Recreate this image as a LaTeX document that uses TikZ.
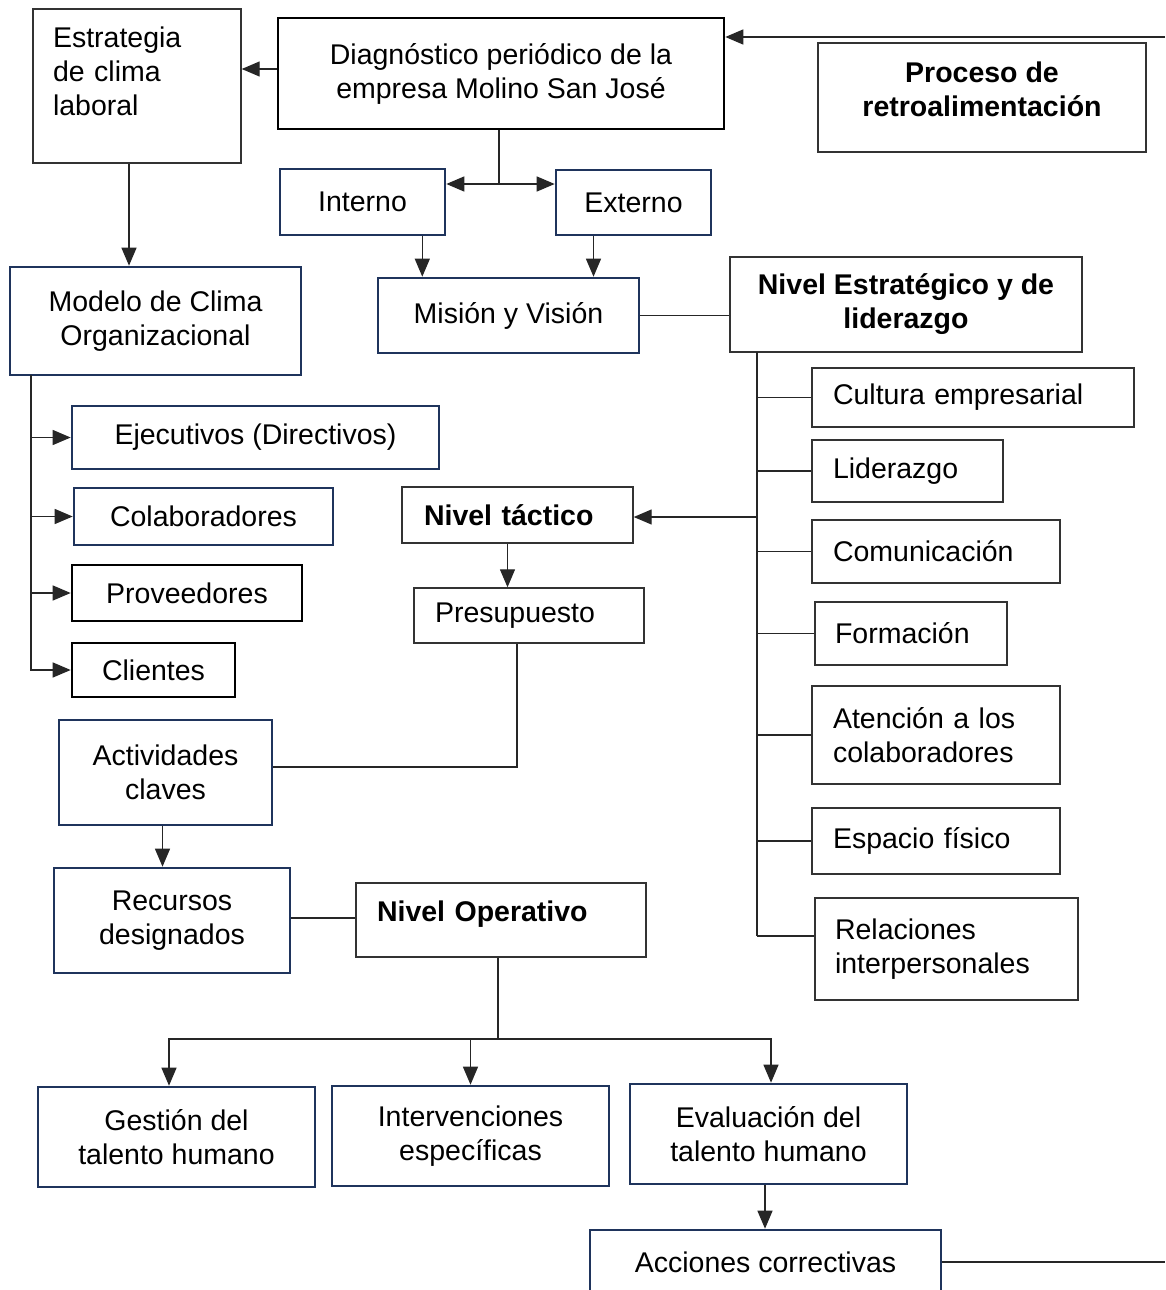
\documentclass[tikz,border=0pt]{standalone}
\usepackage[usenames,dvipsnames,svgnames,table]{xcolor}
\usepackage{fontspec}
\setmainfont{Liberation Sans}
\usepackage{tikz}
\usetikzlibrary{arrows.meta}

\definecolor{navyline}{RGB}{31,52,92}

\tikzset{
  txtfont/.style={font=\fontsize{28.5}{34}\selectfont},
  thinbox/.style={draw=black!80, line width=1.4pt, rectangle, inner sep=0pt, txtfont},
  thickbox/.style={draw=black, line width=2.6pt, rectangle, inner sep=0pt, txtfont},
  navybox/.style={draw=navyline, line width=2.6pt, rectangle, inner sep=0pt, txtfont},
  arr/.style={-{Triangle[length=18pt,width=15pt]}},
  conn/.style={draw=black!85, line width=1.3pt}
}

\begin{document}
\begin{tikzpicture}[x=1pt,y=-1pt]
        \useasboundingbox (0,0) rectangle (1165,1290);

        % cabecera
        \node[thinbox, minimum width=208, minimum height=154, text width=168, align=left] (estr) at (137,86) {Estrategia\\de clima\\laboral\\[-4pt]~};
        \node[thickbox, minimum width=446, minimum height=111, align=center] (diag) at (501,73.5) {Diagnóstico periódico de la\\empresa Molino San José};
        \node[thinbox, minimum width=328, minimum height=109, align=center, font=\fontsize{28.5}{34}\selectfont\bfseries] (proc) at (982,97.5) {Proceso de\\retroalimentación\\[-17pt]~};
        \node[navybox, minimum width=165, minimum height=66] (intern) at (362.5,202) {Interno};
        \node[navybox, minimum width=155, minimum height=65] (extern) at (633.5,202.5) {Externo};
        \node[navybox, minimum width=261, minimum height=75] (mision) at (508.5,315.5) {Misión y Visión};

        % nivel estrategico
        \node[thinbox, minimum width=352, minimum height=95, align=center, font=\fontsize{28.5}{34}\selectfont\bfseries] (nest) at (906,304.5) {Nivel Estratégico y de\\liderazgo};
        \node[thinbox, minimum width=322, minimum height=59, text width=280, align=left] (cult) at (973,397.5) {Cultura empresarial};
        \node[thinbox, minimum width=191, minimum height=62, text width=149, align=left] (lider) at (907.5,471) {Liderazgo};
        \node[thinbox, minimum width=248, minimum height=63, text width=206, align=left] (comun) at (936,551.5) {Comunicación};
        \node[thinbox, minimum width=192, minimum height=63, text width=152, align=left] (form) at (911,633.5) {Formación};
        \node[thinbox, minimum width=248, minimum height=98, text width=206, align=left] (atenc) at (936,735) {Atención a los\\colaboradores};
        \node[thinbox, minimum width=248, minimum height=66, text width=206, align=left] (espac) at (936,841) {Espacio físico};
        \node[thinbox, minimum width=263, minimum height=102, text width=223, align=left] (relac) at (946.5,949) {Relaciones\\interpersonales};

        % modelo
        \node[navybox, minimum width=291, minimum height=108, align=center] (model) at (155.5,321) {Modelo de Clima\\Organizacional};
        \node[navybox, minimum width=367, minimum height=63] (ejec) at (255.5,437.5) {Ejecutivos (Directivos)};
        \node[navybox, minimum width=259, minimum height=57] (colab) at (203.5,516.5) {Colaboradores};
        \node[thickbox, minimum width=230, minimum height=56] (prov) at (187,593) {Proveedores};
        \node[thickbox, minimum width=163, minimum height=54] (client) at (153.5,670) {Clientes};

        % nivel tactico
        \node[thinbox, minimum width=231, minimum height=56, text width=187, align=left, font=\fontsize{28.5}{34}\selectfont\bfseries] (tact) at (517.5,515) {Nivel táctico};
        \node[thinbox, minimum width=230, minimum height=55, text width=188, align=left] (presu) at (529,615.5) {Presupuesto};
        \node[navybox, minimum width=213, minimum height=105, align=center] (activ) at (165.5,772.5) {Actividades\\claves};
        \node[navybox, minimum width=236, minimum height=105, align=center] (recur) at (172,920.5) {Recursos\\designados};

        % nivel operativo
        \node[thinbox, minimum width=290, minimum height=74, text width=248, align=left, font=\fontsize{28.5}{34}\selectfont\bfseries] (nop) at (501,920) {Nivel Operativo\\[-16pt]~};
        \node[navybox, minimum width=277, minimum height=100, align=center] (gest) at (176.5,1137) {Gestión del\\talento humano};
        \node[navybox, minimum width=277, minimum height=100, align=center] (interv) at (470.5,1136) {Intervenciones\\específicas};
        \node[navybox, minimum width=277, minimum height=100, align=center] (eval) at (768.5,1134) {Evaluación del\\talento humano};
        \node[navybox, minimum width=351, minimum height=64] (accion) at (765.5,1262) {Acciones correctivas};

        % puntos de union
        \coordinate (dsplit) at (499,184);
        \coordinate (etop) at (757,352);
        \coordinate (ebot) at (757,936);
        \coordinate (mtop) at (31,375);
        \coordinate (pcorner) at (517,767);
        \coordinate (osplit) at (498,1039);
        \coordinate (fbin) at (1165,37);
        \coordinate (fbout) at (1165,1262);

        % conectores
        \draw[conn,arr] (diag.west |- 0,69) -- (estr.east |- 0,69);
        \draw[conn,arr] ([xshift=-8pt]estr.south) -- ([xshift=-8pt]estr.south |- model.north);
        \draw[conn] (diag.south -| dsplit) -- (dsplit);
        \draw[conn,arr] (dsplit) -- (dsplit -| intern.east);
        \draw[conn,arr] (dsplit) -- (dsplit -| extern.west);
        \draw[conn,arr] ([xshift=-24pt]intern.south east) -- ([xshift=-24pt]intern.south east |- mision.north);
        \draw[conn,arr] ([xshift=-40pt]extern.south) -- ([xshift=-40pt]extern.south |- mision.north);
        \draw[conn] (mision.east) -- (mision.east -| nest.west);

        \draw[conn] (etop) -- (ebot);
        \foreach \b in {cult,lider,comun,form,atenc,espac}
            \draw[conn] (etop |- \b.west) -- (\b.west);
        \draw[conn] (ebot) -- (ebot -| relac.west);
        \draw[conn,arr] ([yshift=-2pt]etop |- tact.east) -- ([yshift=-2pt]tact.east);

        \draw[conn] (model.south -| mtop) -- (mtop);
        \draw[conn,arr] (mtop) |- (client.west);
        \foreach \b in {ejec,colab,prov}
            \draw[conn,arr] (mtop |- \b.west) -- (\b.west);

        \draw[conn,arr] ([xshift=-10pt]tact.south) -- ([xshift=-10pt]tact.south |- presu.north);
        \draw[conn] (presu.south -| pcorner) -- (pcorner) -- (pcorner -| activ.east);
        \draw[conn,arr] ([xshift=-3pt]activ.south) -- ([xshift=-3pt]activ.south |- recur.north);
        \draw[conn] ([yshift=2.5pt]recur.east) -- ([yshift=2.5pt]recur.east -| nop.west);

        \draw[conn] (nop.south -| osplit) -- (osplit);
        \draw[conn,arr] (osplit) -| ([xshift=-7.5pt]gest.north);
        \draw[conn,arr] (osplit) -| ([xshift=2.5pt]eval.north);
        \draw[conn,arr] (osplit -| interv.north) -- (interv.north);
        \draw[conn,arr] ([xshift=-3.5pt]eval.south) -- ([xshift=-3.5pt]eval.south |- accion.north);

        \draw[conn] (accion.east) -- (fbout);
        \draw[conn,arr] (fbin) -- (fbin -| diag.east);
    \end{tikzpicture}
\end{document}
